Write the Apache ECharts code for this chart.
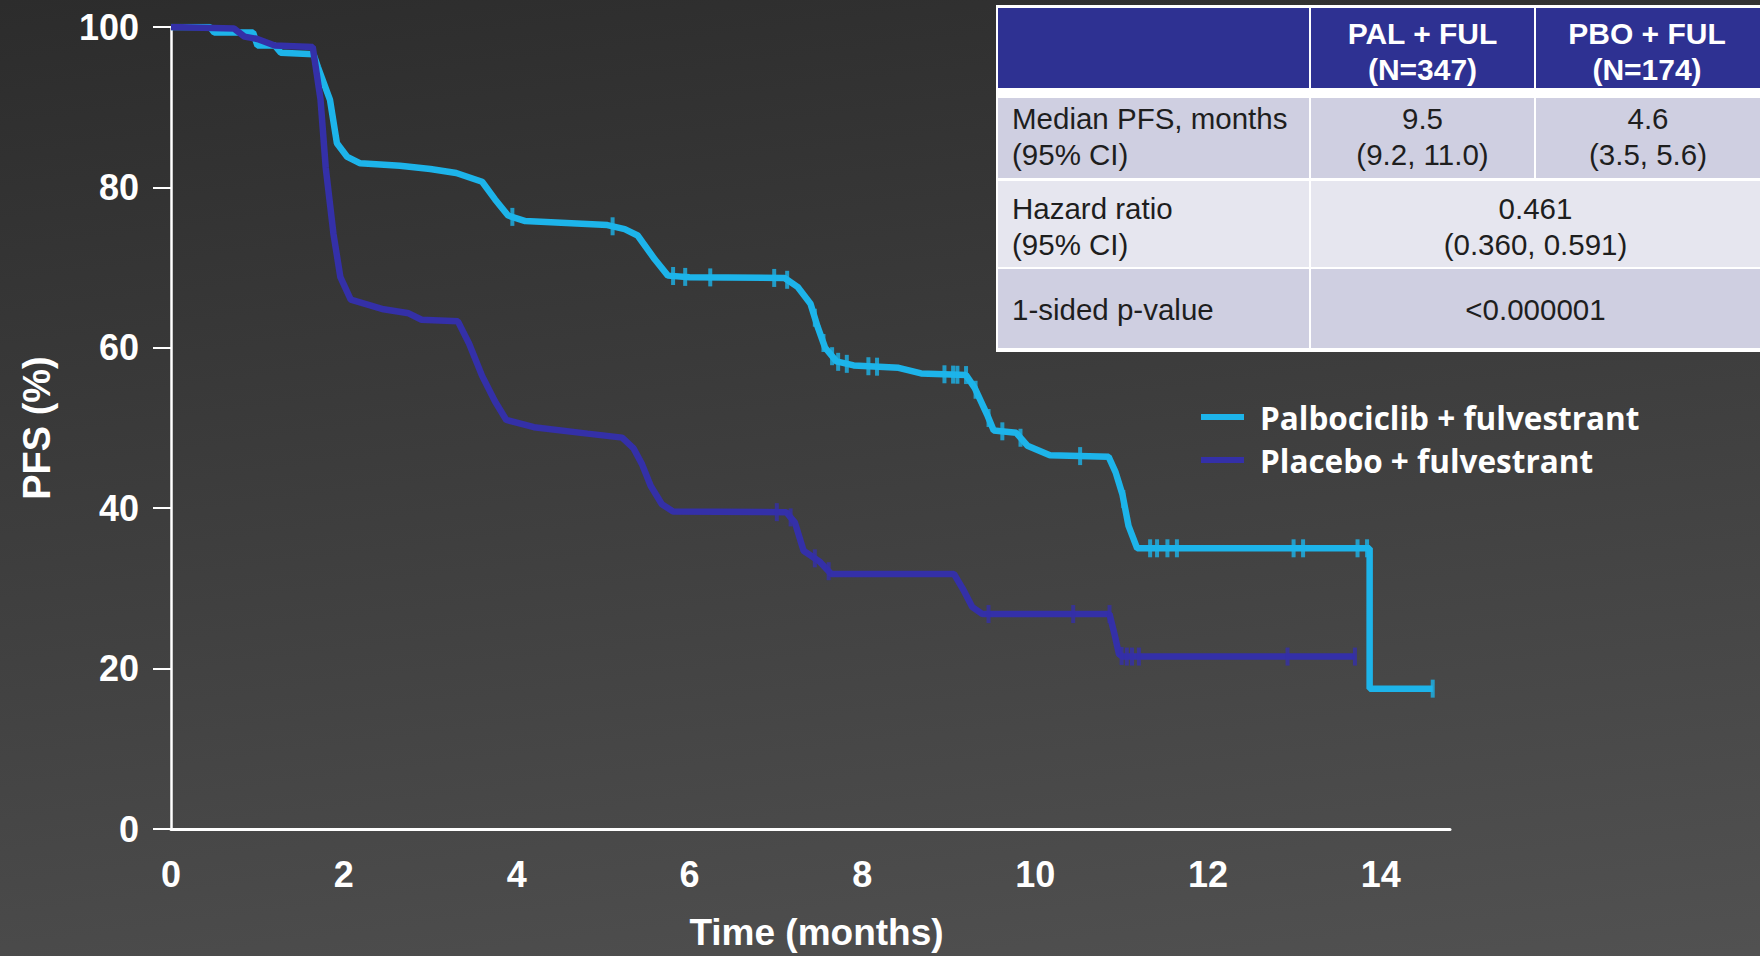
<!DOCTYPE html>
<html>
<head>
<meta charset="utf-8">
<title>PFS – Palbociclib + fulvestrant vs Placebo + fulvestrant</title>
<script src="https://cdn.jsdelivr.net/npm/echarts@6/dist/echarts.min.js"></script>
<style>
  html, body { margin: 0; padding: 0; background: #3a3a3a; }
  #chart { width: 1760px; height: 956px; }
</style>
</head>
<body>
<div id="chart"></div>
<script>
// ---- Kaplan–Meier estimates (time in months, PFS in %) ----
const palName = 'Palbociclib + fulvestrant';
const pboName = 'Placebo + fulvestrant';

const palTime = [0, 0.45, 0.5, 0.95, 1.0, 1.2, 1.27, 1.65, 1.7, 1.84, 1.92, 2.04, 2.19, 2.65, 3.0, 3.3, 3.6, 3.75, 3.9, 4.1, 5.05, 5.25, 5.4, 5.6, 5.75, 6.0, 7.1, 7.25, 7.4, 7.48, 7.57, 7.7, 7.9, 8.42, 8.68, 9.2, 9.3, 9.45, 9.52, 9.78, 9.91, 10.17, 10.85, 10.93, 11.01, 11.08, 11.18, 13.87, 13.87, 14.6];
const palPFS  = [100, 100, 99.3, 99.3, 97.7, 97.7, 96.8, 96.6, 95, 90.9, 85.5, 83.8, 83, 82.7, 82.3, 81.8, 80.7, 78.5, 76.5, 75.8, 75.3, 74.8, 74, 71, 69, 68.8, 68.7, 67.6, 65.5, 62.7, 60, 58.3, 57.8, 57.5, 56.8, 56.6, 55, 51.5, 49.7, 49.4, 47.8, 46.6, 46.4, 44.5, 41.7, 37.8, 35, 35, 17.5, 17.5];

const pboTime = [0, 0.73, 0.85, 1.0, 1.2, 1.64, 1.73, 1.79, 1.88, 1.96, 2.08, 2.46, 2.75, 2.9, 3.32, 3.45, 3.6, 3.75, 3.88, 4.2, 4.82, 5.22, 5.35, 5.45, 5.55, 5.68, 5.81, 7.12, 7.22, 7.32, 7.51, 7.64, 9.06, 9.17, 9.27, 9.39, 10.86, 10.92, 10.97, 11.01, 13.7];
const pboPFS  = [100, 99.8, 98.8, 98.5, 97.7, 97.5, 91, 82.5, 74.2, 68.8, 66, 64.8, 64.3, 63.5, 63.3, 60.5, 56.5, 53.3, 51, 50.1, 49.3, 48.8, 47.5, 45.5, 42.8, 40.5, 39.6, 39.5, 38.2, 34.7, 33.3, 31.8, 31.8, 29.8, 27.7, 26.8, 26.8, 24.2, 21.8, 21.5, 21.5];

// censoring times (months)
const palCensor = [3.95, 5.11, 5.81, 5.95, 6.24, 6.98, 7.13, 7.45, 7.55, 7.65, 7.72, 7.82, 8.07, 8.17, 8.95, 9.05, 9.1, 9.2, 9.31, 9.46, 9.62, 9.83, 10.52, 11.02, 11.33, 11.41, 11.53, 11.64, 12.99, 13.1, 13.73, 13.84, 14.6];
const pboCensor = [7.01, 7.17, 7.45, 7.61, 9.46, 10.44, 10.86, 11.0, 11.06, 11.12, 11.2, 12.92, 13.7];

// axis tick labels
const xTicks = [0, 2, 4, 6, 8, 10, 12, 14];
const yTicks = [0, 20, 40, 60, 80, 100];

// summary table
const tableHead = ['', 'PAL + FUL\n(N=347)', 'PBO + FUL\n(N=174)'];
const tableRows = [
  ['Median PFS, months\n(95% CI)', '9.5\n(9.2, 11.0)', '4.6\n(3.5, 5.6)'],
  ['Hazard ratio\n(95% CI)', '0.461\n(0.360, 0.591)'],
  ['1-sided p-value', '<0.000001']
];

// ---- helpers ----
function pairs(ts, vs) { return ts.map((t, i) => [t, vs[i]]); }
function valueAt(ts, vs, t) {
  for (let i = 0; i < ts.length - 1; i++) {
    if (t >= ts[i] && t <= ts[i + 1]) {
      if (ts[i + 1] === ts[i]) return vs[i];
      const f = (t - ts[i]) / (ts[i + 1] - ts[i]);
      return vs[i] + f * (vs[i + 1] - vs[i]);
    }
  }
  return vs[vs.length - 1];
}
function censorPoints(ts, vs, cs) { return cs.map(t => [t, valueAt(ts, vs, t)]); }

const PAL_COLOR = '#1db4ea';
const PBO_COLOR = '#3430a8';
const AXIS_FONT = '"Liberation Sans", Arial, sans-serif';

// ---- table graphics ----
const colX = [998, 1311, 1536, 1760];
const headY = [8, 88];
const rowY = [[98, 178], [181, 267], [269, 348]];
const rowTextY = [136, 226, 309];
const rowFill = ['#cfcfe1', '#e6e6ef', '#cfcfe1'];
const tableEls = [];
tableEls.push({ type: 'rect', shape: { x: 996, y: 5, width: 764, height: 347 }, style: { fill: '#ffffff' }, z: 10 });
for (let c = 0; c < 3; c++) {
  tableEls.push({ type: 'rect', shape: { x: colX[c], y: headY[0], width: colX[c + 1] - colX[c] - (c < 2 ? 2 : 0), height: headY[1] - headY[0] }, style: { fill: '#2e3192' }, z: 11 });
  if (tableHead[c]) {
    tableEls.push({ type: 'text', z: 12, style: {
      text: tableHead[c], x: (colX[c] + colX[c + 1] - 2) / 2, y: 51,
      align: 'center', textAlign: 'center', verticalAlign: 'middle', textVerticalAlign: 'middle',
      fill: '#ffffff', fontSize: 30, fontWeight: 'bold', fontFamily: AXIS_FONT, lineHeight: 36 } });
  }
}
tableRows.forEach((row, r) => {
  const [y0, y1] = rowY[r];
  const spans = row.length === 3 ? [[0, 1], [1, 2], [2, 3]] : [[0, 1], [1, 3]];
  row.forEach((txt, k) => {
    const [a, b] = spans[k];
    const x0 = colX[a], x1 = colX[b] - (b < 3 ? 2 : 0);
    tableEls.push({ type: 'rect', shape: { x: x0, y: y0, width: x1 - x0, height: y1 - y0 }, style: { fill: rowFill[r] }, z: 11 });
    const left = k === 0;
    tableEls.push({ type: 'text', z: 12, style: {
      text: txt, x: left ? x0 + 14 : (x0 + x1) / 2, y: rowTextY[r],
      align: left ? 'left' : 'center', textAlign: left ? 'left' : 'center',
      verticalAlign: 'middle', textVerticalAlign: 'middle',
      fill: '#1e1e1e', fontSize: 29.5, fontFamily: AXIS_FONT, lineHeight: 36 } });
  });
});

// ---- chart ----
const chart = echarts.init(document.getElementById('chart'), null, { renderer: 'svg', width: 1760, height: 956 });

const option = {
  animation: false,
  graphic: {
    elements: [
      { type: 'rect', z: -10, silent: true,
        shape: { x: 0, y: 0, width: 1760, height: 956 },
        style: { fill: { type: 'linear', x: 0, y: 0, x2: 0.346, y2: 1.508,
          colorStops: [{ offset: 0, color: '#2c2c2c' }, { offset: 1, color: '#5c5c5c' }] } } }
    ].concat(tableEls)
  },
  grid: { left: 171, top: 27, width: 1279, height: 802, containLabel: false, outerBoundsMode: 'none' },
  legend: {
    data: [palName, pboName],
    orient: 'vertical', left: 1201, top: 399, padding: 0,
    itemWidth: 43, itemHeight: 6, itemGap: 7, icon: 'rect',
    selectedMode: false,
    textStyle: { color: '#ffffff', fontFamily: '"Open Sans", Lato, sans-serif', fontWeight: 'bold', fontSize: 31.5, lineHeight: 36, padding: [0, 0, 0, 11] }
  },
  xAxis: {
    type: 'value', min: 0, max: 14.8, interval: 2,
    name: 'Time (months)', nameLocation: 'middle', nameGap: 85,
    nameTextStyle: { color: '#ffffff', fontFamily: AXIS_FONT, fontWeight: 'bold', fontSize: 37, lineHeight: 37, padding: [0, 0, 0, 12] },
    axisLine: { show: true, lineStyle: { color: '#ffffff', width: 3 } },
    axisTick: { show: false },
    splitLine: { show: false },
    axisLabel: {
      color: '#ffffff', fontFamily: AXIS_FONT, fontWeight: 'bold', fontSize: 36, lineHeight: 36, margin: 27,
      showMaxLabel: false,
      formatter: v => (xTicks.indexOf(v) >= 0 ? String(v) : '')
    }
  },
  yAxis: {
    type: 'value', min: 0, max: 100, interval: 20,
    name: 'PFS (%)', nameLocation: 'middle', nameGap: 115,
    nameTextStyle: { color: '#ffffff', fontFamily: AXIS_FONT, fontWeight: 'bold', fontSize: 38, lineHeight: 38 },
    axisLine: { show: true, lineStyle: { color: '#ffffff', width: 2.5 } },
    axisTick: { show: true, length: 18, lineStyle: { color: '#ffffff', width: 2 } },
    splitLine: { show: false },
    axisLabel: {
      color: '#ffffff', fontFamily: AXIS_FONT, fontWeight: 'bold', fontSize: 36, margin: 32,
      formatter: v => (yTicks.indexOf(v) >= 0 ? String(v) : '')
    }
  },
  series: [
    { name: palName, type: 'line', data: pairs(palTime, palPFS), showSymbol: false, symbol: 'none',
      color: PAL_COLOR, lineStyle: { color: PAL_COLOR, width: 6.5 }, itemStyle: { color: PAL_COLOR }, z: 3 },
    { name: pboName, type: 'line', data: pairs(pboTime, pboPFS), showSymbol: false, symbol: 'none',
      color: PBO_COLOR, lineStyle: { color: PBO_COLOR, width: 6.5 }, itemStyle: { color: PBO_COLOR }, z: 4 },
    { name: palName + ' (censored)', type: 'scatter', data: censorPoints(palTime, palPFS, palCensor),
      symbol: 'rect', symbolSize: [4, 18], itemStyle: { color: PAL_COLOR }, z: 5 },
    { name: pboName + ' (censored)', type: 'scatter', data: censorPoints(pboTime, pboPFS, pboCensor),
      symbol: 'rect', symbolSize: [4, 18], itemStyle: { color: PBO_COLOR }, z: 5 }
  ]
};
chart.setOption(option);
</script>
</body>
</html>
